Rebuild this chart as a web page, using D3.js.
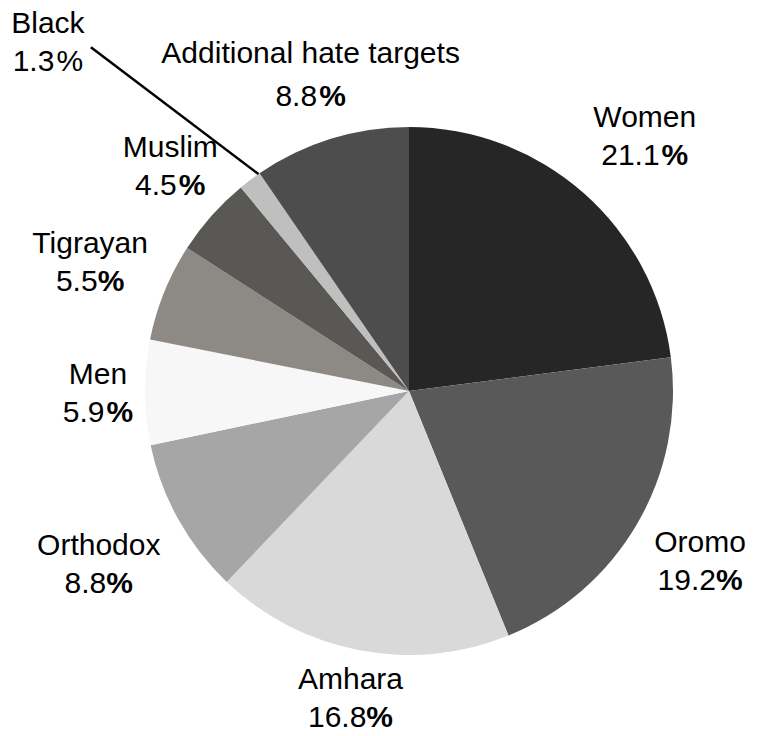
<!DOCTYPE html>
<html>
<head>
<meta charset="utf-8">
<script src="https://cdn.jsdelivr.net/npm/d3@7"></script>
<style>
  body { margin: 0; background: #fff; }
  text { font-family: "Liberation Sans", Arial, sans-serif; fill: #000; }
</style>
</head>
<body>
<div id="chart"></div>
<script>
// Data
const categories = ["Women", "Oromo", "Amhara", "Orthodox", "Men", "Tigrayan", "Muslim", "Black", "Additional hate targets"];
const shares = [21.1, 19.2, 16.8, 8.8, 5.9, 5.5, 4.5, 1.3, 8.8];
const colors = ["#262626", "#595959", "#d9d9d9", "#a6a6a6", "#f7f7f7", "#8d8a85", "#595854", "#bfbfbf", "#4d4d4d"];

// Label layout: distance from centre, optional angle override (degrees)
const labelRadius = [347, 337, 313, 355, 311, 344, 328, 502, 332];
const labelAngle = [42.8, null, null, null, null, null, 313.3, 314, null];

const width = 757;
const height = 736;
const cx = 409, cy = 391, r = 264;
const fontSize = 30;

const rows = categories.map((c, i) => ({ name: c, value: shares[i], color: colors[i], i }));

const pie = d3.pie().sort(null).value(d => d.value);
const arcs = pie(rows);
const arc = d3.arc().innerRadius(0).outerRadius(r);

const svg = d3.select("#chart")
  .append("svg")
    .attr("width", width)
    .attr("height", height);

const g = svg.append("g").attr("transform", `translate(${cx},${cy})`);

g.selectAll("path")
  .data(arcs)
  .join("path")
    .attr("d", arc)
    .attr("fill", d => d.data.color);

const polar = (rad, a) => [rad * Math.sin(a), -rad * Math.cos(a)];

// leader line for the thin slice
const black = arcs[7];
const bAng = labelAngle[7] * Math.PI / 180;
const [lx, ly] = polar(labelRadius[7], bAng);
const [ex, ey] = polar(r, black.endAngle - 0.005);
g.append("line")
  .attr("x1", lx + 43).attr("y1", ly + 5)
  .attr("x2", ex).attr("y2", ey)
  .attr("stroke", "#000")
  .attr("stroke-width", 2.5);

const labels = g.selectAll(".lbl")
  .data(arcs)
  .join("text")
    .attr("class", "lbl")
    .attr("text-anchor", "middle")
    .style("font-size", fontSize + "px")
    .attr("transform", d => {
      const i = d.data.i;
      const a = labelAngle[i] != null ? labelAngle[i] * Math.PI / 180 : (d.startAngle + d.endAngle) / 2;
      const [x, y] = polar(labelRadius[i], a);
      return `translate(${x},${y})`;
    });

labels.append("tspan")
  .attr("x", 0)
  .attr("y", d => d.data.i === 8 ? -11 : -9)
  .text(d => d.data.name);

const pct = labels.append("tspan")
  .attr("x", 0)
  .attr("y", d => d.data.i === 8 ? 32 : 29);

pct.append("tspan").text(d => d3.format(".1f")(d.data.value));
pct.append("tspan")
  .attr("dx", d => [1, 2, 3, 5].includes(d.data.i) ? 0 : 2)
  .style("font-weight", d => d.data.i === 7 ? "normal" : "bold")
  .text("%");
</script>
</body>
</html>
